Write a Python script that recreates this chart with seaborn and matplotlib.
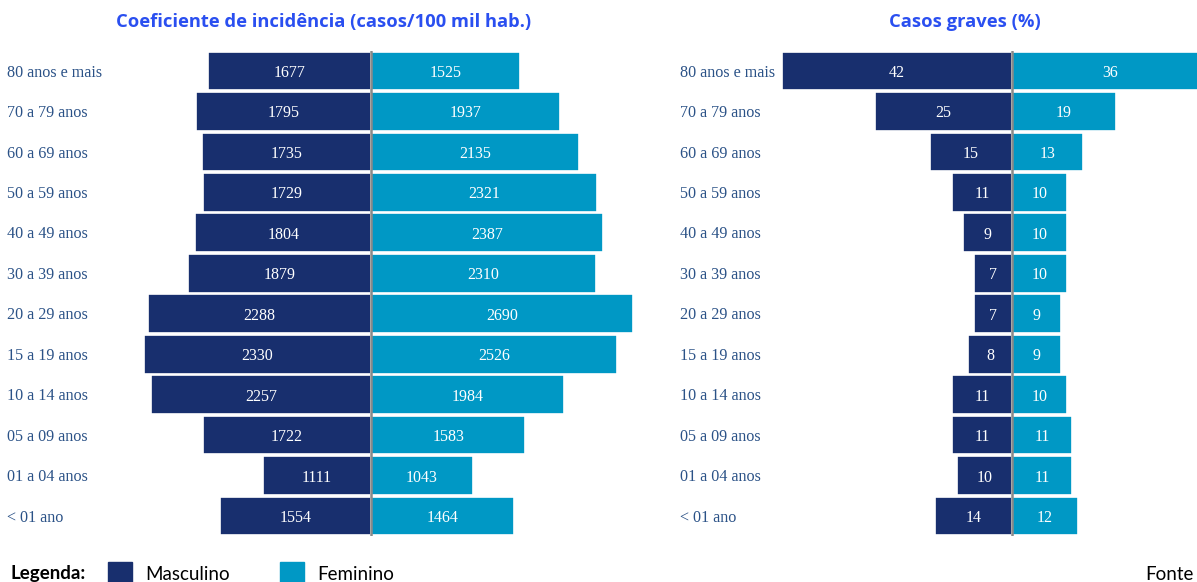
import matplotlib
matplotlib.use("Agg")
import matplotlib.pyplot as plt
import seaborn as sns
import pandas as pd
from matplotlib.patches import Rectangle

sns.set_theme(style="white")

ages = ["80 anos e mais", "70 a 79 anos", "60 a 69 anos", "50 a 59 anos",
        "40 a 49 anos", "30 a 39 anos", "20 a 29 anos", "15 a 19 anos",
        "10 a 14 anos", "05 a 09 anos", "01 a 04 anos", "< 01 ano"]
inc_masc = [1677, 1795, 1735, 1729, 1804, 1879, 2288, 2330, 2257, 1722, 1111, 1554]
inc_fem = [1525, 1937, 2135, 2321, 2387, 2310, 2690, 2526, 1984, 1583, 1043, 1464]
grav_masc = [42, 25, 15, 11, 9, 7, 7, 8, 11, 11, 10, 14]
grav_fem = [36, 19, 13, 10, 10, 10, 9, 9, 10, 11, 11, 12]

C_MASC = "#182F6E"
C_FEM = "#0098C5"
C_LABEL = "#2B5287"
C_TITLE = "#2A4FF0"

W, H = 1197, 582
fig = plt.figure(figsize=(W / 100, H / 100), dpi=100)

top_px, bot_px = 50.8, 536.2


def add_ax(x0, x1):
    return fig.add_axes([x0 / W, 1 - bot_px / H, (x1 - x0) / W, (bot_px - top_px) / H])


def draw_panel(ax, masc, fem, xlim, title, title_x):
    df = pd.DataFrame({"idade": ages * 2,
                       "valor": [-v for v in masc] + list(fem),
                       "sexo": ["Masculino"] * len(ages) + ["Feminino"] * len(ages)})
    sns.barplot(data=df, x="valor", y="idade", hue="sexo", order=ages,
                palette={"Masculino": C_MASC, "Feminino": C_FEM}, dodge=False,
                saturation=1, width=0.96, edgecolor="white", linewidth=1.2,
                ax=ax, legend=False)
    ax.set_xlim(*xlim)
    ax.set_ylim(len(ages) - 0.5, -0.5)
    ax.axvline(0, color="#8A8A8A", lw=1.8, zorder=5)
    for s in ax.spines.values():
        s.set_visible(False)
    ax.set_xticks([])
    ax.set_yticks([])
    ax.set_xlabel("")
    ax.set_ylabel("")
    for i, (m, f) in enumerate(zip(masc, fem)):
        ax.text(-m / 2, i + 0.05, str(m), ha="center", va="center", color="white",
                fontsize=11.5, family="Liberation Serif", zorder=6)
        ax.text(f / 2, i + 0.05, str(f), ha="center", va="center", color="white",
                fontsize=11.5, family="Liberation Serif", zorder=6, clip_on=False)
    fig.text(title_x / W, 1 - 22 / H, title, ha="center", va="center",
             color=C_TITLE, fontsize=13.2, fontweight="bold", family="Open Sans")


# Left panel: center at 371 px, 0.0974 px/unit
s1 = 0.0974
ax1 = add_ax(110, 660)
draw_panel(ax1, inc_masc, inc_fem, (-(371 - 110) / s1, (660 - 371) / s1),
           "Coeficiente de incidência (casos/100 mil hab.)", 324)

# Right panel: center at 1012 px, 5.47 px/unit
s2 = 5.47
ax2 = add_ax(778, 1197)
draw_panel(ax2, grav_masc, grav_fem, (-(1012 - 778) / s2, (1197 - 1012) / s2),
           "Casos graves (%)", 965)

# Row labels
for ax, xpx in [(ax1, 7), (ax2, 680)]:
    tr = matplotlib.transforms.blended_transform_factory(fig.transFigure, ax.transData)
    for i, a in enumerate(ages):
        ax.text(xpx / W, i + 0.04, a, transform=tr, ha="left", va="center", color=C_LABEL,
                fontsize=11.6, family="Liberation Serif", clip_on=False)

# Legend
ly = 1 - 574 / H
fig.text(10 / W, ly, "Legenda:", ha="left", va="center", fontsize=13.5,
         fontweight="bold", color="black", family="Lato")
for x0, col, lab in [(108, C_MASC, "Masculino"), (280, C_FEM, "Feminino")]:
    fig.patches.append(Rectangle((x0 / W, 1 - 582 / H), 24 / W, 20 / H,
                                 transform=fig.transFigure, color=col))
    fig.text((x0 + 37) / W, ly, lab, ha="left", va="center", fontsize=13.5,
             color="black", family="Lato")
fig.text(1194 / W, ly, "Fonte", ha="right", va="center", fontsize=13.5,
         color="black", family="Lato")

fig.savefig("out.png", dpi=100)
